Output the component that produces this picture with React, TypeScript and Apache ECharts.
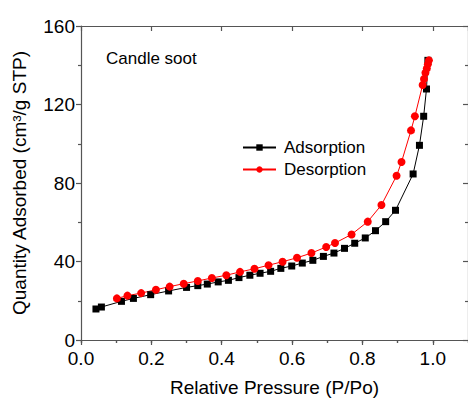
import React, { useEffect, useRef } from "react";
import * as echarts from "echarts";

const adsX = [0.0425, 0.058, 0.115, 0.149, 0.198, 0.249, 0.300, 0.332, 0.359, 0.390, 0.419, 0.449, 0.480, 0.509, 0.539, 0.568, 0.599, 0.629, 0.659, 0.689, 0.719, 0.749, 0.778, 0.808, 0.837, 0.866, 0.894, 0.944, 0.962, 0.974, 0.982, 0.986];
const adsY = [15.8, 16.8, 19.7, 21.2, 23.1, 25.0, 26.8, 27.7, 28.5, 29.6, 30.4, 31.8, 33.0, 34.0, 35.0, 36.5, 37.7, 39.2, 40.6, 42.6, 44.3, 46.7, 49.3, 52.0, 55.7, 60.3, 66.1, 84.6, 99.2, 114.0, 127.9, 142.5];
const desX = [0.989, 0.986, 0.983, 0.979, 0.975, 0.971, 0.949, 0.938, 0.911, 0.897, 0.854, 0.815, 0.769, 0.722, 0.697, 0.655, 0.614, 0.573, 0.533, 0.493, 0.452, 0.413, 0.372, 0.332, 0.292, 0.252, 0.213, 0.171, 0.132, 0.102];
const desY = [142.5, 140.5, 138.4, 136.2, 133.0, 129.9, 114.0, 106.8, 90.7, 83.7, 68.8, 60.3, 53.8, 49.4, 47.4, 44.3, 41.9, 39.9, 38.1, 36.3, 34.7, 33.0, 31.6, 30.1, 28.7, 27.2, 25.6, 23.9, 22.6, 21.2];

const seriesNames = ["Adsorption", "Desorption"];
const sampleLabel = "Candle soot";
const xTitle = "Relative Pressure (P/Po)";
const yTitle = "Quantity Adsorbed (cm³/g STP)";

const FONT = "Liberation Sans, Arial, sans-serif";
const AXIS_COLOR = "#555";

export default function App() {
  const ref = useRef<HTMLDivElement>(null);
  useEffect(() => {
    if (!ref.current) return;
    const chart = echarts.init(ref.current, undefined, { renderer: "svg" });
    const lineStyle = { color: AXIS_COLOR, width: 1.2 };
    const hiddenAxisBase = {
      type: "value",
      min: 0,
      max: 1.1,
      axisLabel: { show: false },
      splitLine: { show: false },
    };
    chart.setOption({
      animation: false,
      backgroundColor: "#fff",
      textStyle: { fontFamily: FONT },
      grid: { left: 81, top: 26, right: 0, bottom: 65, containLabel: false },
      legend: {
        orient: "vertical",
        left: 242,
        top: 139,
        padding: 0,
        itemWidth: 33,
        itemHeight: 8,
        itemGap: 5,
        textStyle: { fontSize: 17, color: "#000", fontFamily: FONT, padding: [0, 0, 0, 3] },
        data: seriesNames,
      },
      graphic: [
        {
          type: "text",
          left: 106,
          top: 50,
          style: { text: sampleLabel, fontSize: 17, fill: "#000", fontFamily: FONT },
        },
      ],
      xAxis: [
        {
          type: "value",
          position: "bottom",
          min: 0,
          max: 1.1,
          interval: 0.2,
          name: xTitle,
          nameLocation: "middle",
          nameGap: 38,
          nameTextStyle: { fontSize: 19, color: "#000", fontFamily: FONT },
          axisLine: { show: true, onZero: false, lineStyle },
          axisTick: { show: true, inside: false, length: 5, lineStyle },
          axisLabel: {
            fontSize: 19,
            color: "#000",
            margin: 9,
            showMaxLabel: false,
            formatter: (v: number) => v.toFixed(1),
          },
          splitLine: { show: false },
        },
        {
          ...hiddenAxisBase,
          position: "bottom",
          interval: 0.1,
          axisLine: { show: false },
          axisTick: { show: true, inside: false, length: 3, lineStyle },
        },
        {
          ...hiddenAxisBase,
          position: "top",
          interval: 0.2,
          axisLine: { show: true, onZero: false, lineStyle },
          axisTick: { show: true, inside: true, length: 5, lineStyle },
        },
        {
          ...hiddenAxisBase,
          position: "top",
          interval: 0.1,
          axisLine: { show: false },
          axisTick: { show: true, inside: true, length: 3, lineStyle },
        },
      ],
      yAxis: [
        {
          type: "value",
          position: "left",
          min: 0,
          max: 160,
          interval: 40,
          name: yTitle,
          nameLocation: "middle",
          nameGap: 52,
          nameTextStyle: { fontSize: 19, color: "#000", fontFamily: FONT },
          axisLine: { show: true, onZero: false, lineStyle },
          axisTick: { show: true, inside: false, length: 5, lineStyle },
          minorTick: { show: true, splitNumber: 2, length: 3, lineStyle },
          axisLabel: { fontSize: 19, color: "#000", margin: 6 },
          splitLine: { show: false },
        },
        {
          type: "value",
          position: "right",
          min: 0,
          max: 160,
          interval: 40,
          axisLine: { show: true, onZero: false, lineStyle },
          axisTick: { show: true, inside: true, length: 5, lineStyle },
          minorTick: { show: true, splitNumber: 2, length: 3, lineStyle },
          axisLabel: { show: false },
          splitLine: { show: false },
        },
      ],
      series: [
        {
          name: seriesNames[0],
          type: "line",
          xAxisIndex: 0,
          yAxisIndex: 0,
          data: adsX.map((x, i) => [x, adsY[i]]),
          symbol: "rect",
          symbolSize: 7,
          itemStyle: { color: "#000" },
          lineStyle: { color: "#000", width: 1 },
        },
        {
          name: seriesNames[1],
          type: "line",
          xAxisIndex: 0,
          yAxisIndex: 0,
          data: desX.map((x, i) => [x, desY[i]]),
          symbol: "circle",
          symbolSize: 8,
          itemStyle: { color: "#ff0000" },
          lineStyle: { color: "#ff0000", width: 1 },
        },
      ],
    });
    return () => chart.dispose();
  }, []);
  return <div ref={ref} style={{ width: 468, height: 405, position: "absolute", left: 0, top: 0 }} />;
}
